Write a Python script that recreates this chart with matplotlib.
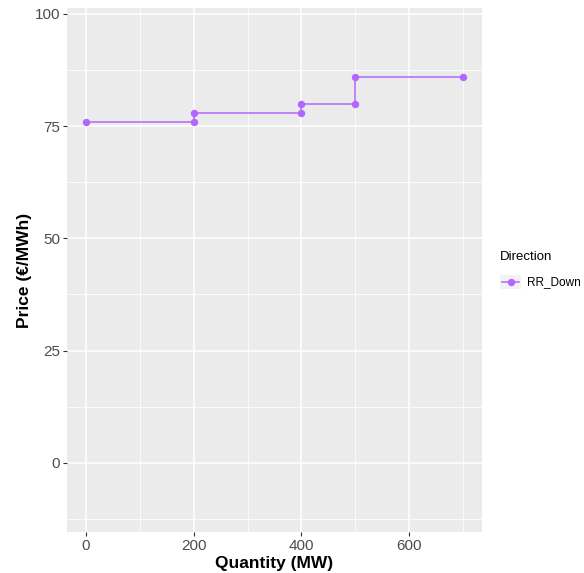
import numpy as np
import matplotlib
matplotlib.use("Agg")
import matplotlib.pyplot as plt
from matplotlib.lines import Line2D
from matplotlib.patches import Rectangle

# offer curve for RR down
quantity = [0, 200, 200, 400, 400, 500, 500, 700]
price = [76, 76, 78, 78, 80, 80, 86, 86]
direction = "RR_Down"

x_ticks = [0, 200, 400, 600]
y_ticks = [0, 25, 50, 75, 100]

plt.rcParams['font.family'] = ['Liberation Sans', 'DejaVu Sans']

W, H = 584, 573
fig = plt.figure(figsize=(W / 100, H / 100), dpi=100)
ax = fig.add_axes([0.1147, 0.0716, 0.7106, 0.9144])
ax.set_facecolor('#EBEBEB')

col = '#B266FF'
ax.plot(quantity, price, color=col, lw=1.1, marker='o', markersize=4.3, zorder=3)

ax.set_xlim(-35, 735)
ax.set_ylim(-15.4, 101.3)
ax.set_xticks(x_ticks)
ax.set_yticks(y_ticks)
ax.set_xticks([100, 300, 500, 700], minor=True)
ax.set_yticks([-12.5, 12.5, 37.5, 62.5, 87.5], minor=True)
ax.grid(True, which='major', color='white', lw=1.1)
ax.grid(True, which='minor', color='white', lw=0.55)
ax.set_axisbelow(True)
for s in ax.spines.values():
    s.set_visible(False)
ax.tick_params(which='major', length=3, color='#333333', labelsize=11, labelcolor='#4D4D4D', pad=2)
ax.tick_params(which='minor', length=0)

ax.set_xlabel('Quantity (MW)', fontsize=12.5, fontweight='bold', labelpad=2)
ax.set_ylabel('Price (€/MWh)', fontsize=12.5, fontweight='bold', labelpad=2)

# legend drawn by hand (ggplot style key box)
fig.text(500 / W, 1 - 257 / H, 'Direction', fontsize=9.5, va='center', ha='left')
fig.patches.append(Rectangle((500 / W, 1 - 289 / H), 21 / W, 14 / H,
                             transform=fig.transFigure, facecolor='#F2F2F2',
                             edgecolor='none', figure=fig))
ky = 1 - 282 / H
fig.lines.append(Line2D([502 / W, 519 / W], [ky, ky], transform=fig.transFigure,
                        color=col, lw=1.1, figure=fig))
fig.lines.append(Line2D([510.5 / W], [ky], transform=fig.transFigure, color=col,
                        marker='o', markersize=4.3, figure=fig))
fig.text(527 / W, ky, direction, fontsize=8.5, va='center', ha='left')

fig.savefig('out.png', dpi=100, facecolor='white')
